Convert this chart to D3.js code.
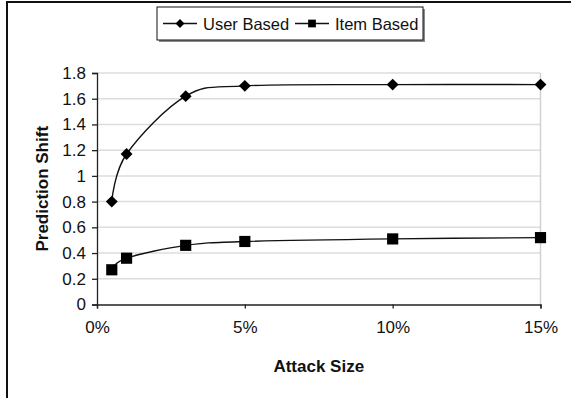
<!DOCTYPE html>
<html><head><meta charset="utf-8">
<script src="https://cdn.jsdelivr.net/npm/d3@7"></script>
<style>body{margin:0;background:#fff}svg{display:block}text{font-family:"Liberation Sans",Arial,sans-serif}</style>
</head><body>
<svg id="c" width="571" height="398"></svg>
<script>
const attackSizes = [0.5, 1, 3, 5, 10, 15];
const userBased = [0.80, 1.17, 1.62, 1.70, 1.71, 1.71];
const itemBased = [0.27, 0.36, 0.46, 0.49, 0.51, 0.52];
const xTicks = [0, 5, 10, 15];
const yTicks = [0, 0.2, 0.4, 0.6, 0.8, 1, 1.2, 1.4, 1.6, 1.8];
const seriesNames = ["User Based", "Item Based"];

const svg = d3.select("#c");
const x = d3.scaleLinear().domain([0, 15]).range([97, 540.5]);
const y = d3.scaleLinear().domain([0, 1.8]).range([304.5, 73]);
const FONT = "Liberation Sans, Arial, sans-serif";

// outer frame (left and top edges visible)
svg.append("line").attr("x1", 7).attr("x2", 7).attr("y1", 1).attr("y2", 398).attr("stroke", "#111").attr("stroke-width", 2);
svg.append("line").attr("x1", 6).attr("x2", 571).attr("y1", 2).attr("y2", 2).attr("stroke", "#111").attr("stroke-width", 2);

// gridlines
svg.append("g").selectAll("line").data(yTicks.filter(d => d > 0)).join("line")
  .attr("x1", x(0)).attr("x2", x(15)).attr("y1", d => y(d)).attr("y2", d => y(d))
  .attr("stroke", "#dcdcdc").attr("stroke-width", 1.5);
svg.append("line").attr("x1", x(15)).attr("x2", x(15)).attr("y1", y(1.8)).attr("y2", y(0))
  .attr("stroke", "#d0d0d0").attr("stroke-width", 1.5);

// axes
const yAxis = svg.append("g").attr("transform", `translate(${x(0)},0)`)
  .call(d3.axisLeft(y).tickValues(yTicks).tickSize(5).tickPadding(6).tickFormat(d => String(+d.toFixed(1))));
const xAxis = svg.append("g").attr("transform", `translate(0,${y(0)})`)
  .call(d3.axisBottom(x).tickValues(xTicks).tickSize(4).tickPadding(12).tickFormat(d => d + "%"));
[yAxis, xAxis].forEach(g => {
  g.select(".domain").attr("stroke", "#222").attr("stroke-width", 1.3);
  g.selectAll(".tick line").attr("stroke", "#222").attr("stroke-width", 1.3);
  g.selectAll(".tick text").attr("fill", "#111").style("font-size", "17px").style("font-family", FONT);
});

// axis titles
svg.append("text").attr("x", (x(0) + x(15)) / 2).attr("y", 372).attr("text-anchor", "middle")
  .style("font-size", "17px").style("font-weight", "bold").attr("fill", "#111").text("Attack Size");
svg.append("text").attr("transform", `translate(48,${(y(0) + y(1.8)) / 2}) rotate(-90)`).attr("text-anchor", "middle")
  .style("font-size", "17px").style("font-weight", "bold").attr("fill", "#111").text("Prediction Shift");

// lines
const line = d3.line().x(d => x(d[0])).y(d => y(d[1])).curve(d3.curveCardinal.tension(0));
const userPts = attackSizes.map((a, i) => [a, userBased[i]]);
const itemPts = attackSizes.map((a, i) => [a, itemBased[i]]);
svg.append("path").attr("d", line(userPts)).attr("fill", "none").attr("stroke", "#111").attr("stroke-width", 1.4);
svg.append("path").attr("d", line(itemPts)).attr("fill", "none").attr("stroke", "#111").attr("stroke-width", 1.4);

const diamond = d3.symbol().type(d3.symbolDiamond2);
const square = d3.symbol().type(d3.symbolSquare);
svg.append("g").selectAll("path").data(userPts).join("path")
  .attr("transform", d => `translate(${x(d[0])},${y(d[1])})`).attr("d", diamond.size(90)()).attr("fill", "#000");
svg.append("g").selectAll("path").data(itemPts).join("path")
  .attr("transform", d => `translate(${x(d[0])},${y(d[1])})`).attr("d", square.size(125)()).attr("fill", "#000");

// legend
const lg = svg.append("g");
const lx0 = 157, ly0 = 7, lw = 266, lh = 33;
lg.append("rect").attr("x", lx0 + 2).attr("y", ly0 + 2).attr("width", lw).attr("height", lh).attr("fill", "#8a8a8a");
lg.append("rect").attr("x", lx0).attr("y", ly0).attr("width", lw).attr("height", lh).attr("fill", "#fff").attr("stroke", "#111").attr("stroke-width", 1);
const ly = ly0 + lh / 2;
const items = [
  {name: seriesNames[0], lx: 163, sym: diamond.size(50)()},
  {name: seriesNames[1], lx: 295, sym: square.size(60)()}
];
items.forEach(it => {
  lg.append("line").attr("x1", it.lx).attr("x2", it.lx + 34).attr("y1", ly).attr("y2", ly).attr("stroke", "#111").attr("stroke-width", 1.4);
  lg.append("path").attr("transform", `translate(${it.lx + 17},${ly})`).attr("d", it.sym).attr("fill", "#000");
  lg.append("text").attr("x", it.lx + 40).attr("y", ly + 6).style("font-size", "16.5px").attr("fill", "#111").text(it.name);
});
</script>
</body></html>
